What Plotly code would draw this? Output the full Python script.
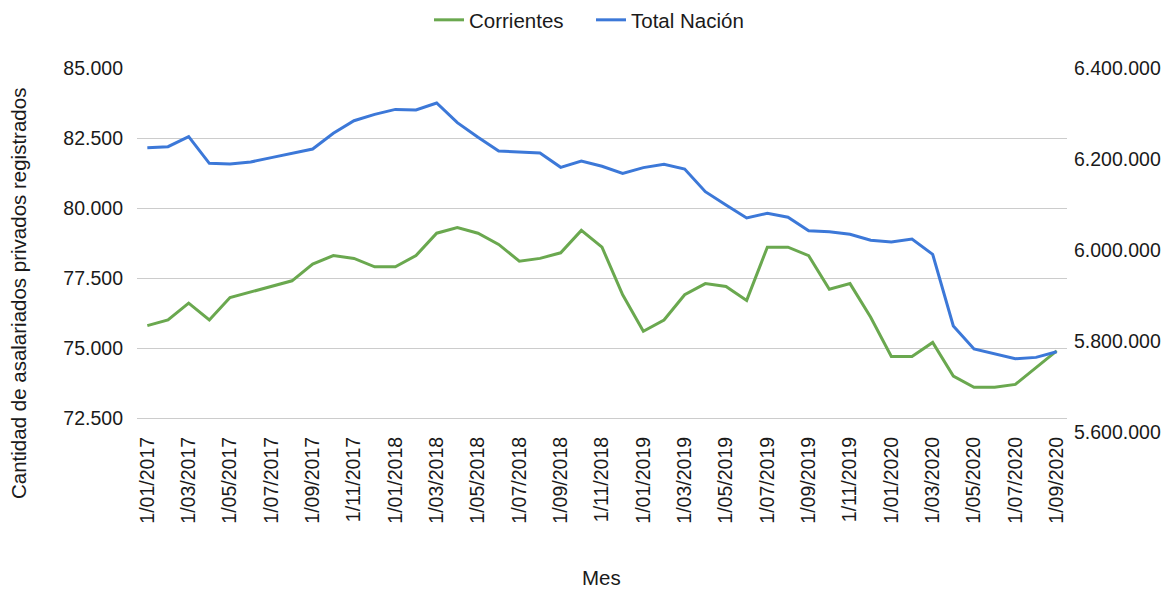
import plotly.graph_objects as go

years_months = [(2017, m) for m in range(1, 13)] + [(2018, m) for m in range(1, 13)] + \
               [(2019, m) for m in range(1, 13)] + [(2020, m) for m in range(1, 10)]
meses = [f"1/{m:02d}/{y}" for (y, m) in years_months]

corrientes = [75800, 76000, 76600, 76000, 76800, 77000, 77200, 77400, 78000, 78300,
              78200, 77900, 77900, 78300, 79100, 79300, 79100, 78700, 78100, 78200,
              78400, 79200, 78600, 76900, 75600, 76000, 76900, 77300, 77200, 76700,
              78600, 78600, 78300, 77100, 77300, 76100, 74700, 74700, 75200, 74000,
              73600, 73600, 73700, 74300, 74900]

total_nacion = [6225000, 6227000, 6249000, 6190500, 6189000, 6193400, 6203000, 6212500, 6222000, 6256400,
                6284200, 6298000, 6309000, 6307700, 6323000, 6280000, 6247700, 6217600, 6216000, 6213000,
                6181700, 6195600, 6184000, 6168500, 6181000, 6188300, 6178000, 6128200, 6099000, 6070500,
                6080600, 6072000, 6042500, 6040300, 6034500, 6021300, 6017600, 6024200, 5990600, 5833000,
                5782400, 5771400, 5761000, 5764000, 5776500]

left_ticks = [72500, 75000, 77500, 80000, 82500, 85000]
right_ticks = [5600000, 5800000, 6000000, 6200000, 6400000]
x_ticks = meses[::2]

GREEN = "#6aa84f"
BLUE = "#3c78d8"
FONT = "Liberation Sans, Arial, sans-serif"

fig = go.Figure()
fig.add_trace(go.Scatter(x=meses, y=corrientes, name="Corrientes", mode="lines",
                         line=dict(color=GREEN, width=3), yaxis="y"))
fig.add_trace(go.Scatter(x=meses, y=total_nacion, name="Total Nación", mode="lines",
                         line=dict(color=BLUE, width=3), yaxis="y2"))

fig.update_layout(
    width=1176, height=590,
    margin=dict(l=137, r=109, t=68, b=158),
    paper_bgcolor="white", plot_bgcolor="white",
    separators=",.",
    font=dict(family=FONT, size=19.5, color="#1a1a1a"),
    showlegend=True,
    legend=dict(orientation="h", x=(429 - 137) / 930, xanchor="left",
                y=1.0, yanchor="top", yref="container",
                font=dict(size=20.5), entrywidth=117, itemwidth=30),
    xaxis=dict(type="category", range=[-0.5, len(meses) - 0.5],
               tickmode="array", tickvals=x_ticks, ticktext=x_ticks,
               tickangle=-90, showgrid=False, showline=False, zeroline=False,
               ticks="", tickfont=dict(size=19.5)),
    yaxis=dict(range=[72000, 85000], tickmode="array", tickvals=left_ticks,
               tickformat=",", showgrid=True, gridcolor="#cccccc", gridwidth=1,
               zeroline=False, showline=False, ticks="", ticklabelstandoff=13,
               tickfont=dict(size=19.5)),
    yaxis2=dict(range=[5600000, 6400000], tickmode="array", tickvals=right_ticks,
                tickformat=",", overlaying="y", side="right", showgrid=False,
                zeroline=False, showline=False, ticks="", ticklabelstandoff=6,
                tickfont=dict(size=19.5)),
    annotations=[
        dict(text="Cantidad de asalariados privados registrados", textangle=-90,
             xref="paper", yref="paper", x=(18 - 137) / 930, y=(432 - 294) / 364,
             xanchor="center", yanchor="middle", showarrow=False,
             font=dict(size=20.5)),
        dict(text="Mes", xref="paper", yref="paper", x=(601 - 137) / 930,
             y=(432 - 577) / 364, xanchor="center", yanchor="middle",
             showarrow=False, font=dict(size=20.5)),
    ],
)

fig.write_html("out.html", config={"displayModeBar": False},
               post_script="document.body.style.margin='0';")
